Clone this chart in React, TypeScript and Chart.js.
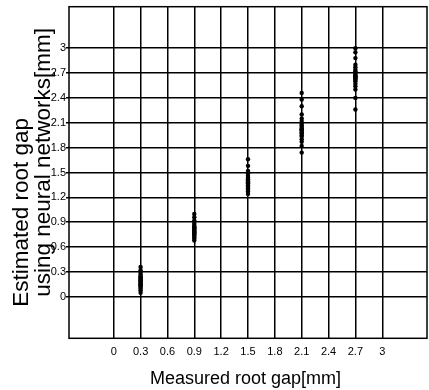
import React, { useEffect, useRef } from "react";
import { Chart, registerables } from "chart.js";

Chart.register(...registerables);

// Measured root gap categories (mm)
const measured = [0.3, 0.9, 1.5, 2.1, 2.7];

// Estimated root gap samples per measured value (mm)
const est03 = [0.05, 0.08, 0.1, 0.12, 0.13, 0.14, 0.15, 0.16, 0.17, 0.18, 0.19, 0.2, 0.21, 0.22, 0.23, 0.24, 0.25, 0.27, 0.29, 0.32, 0.36];
const est09 = [0.68, 0.7, 0.72, 0.74, 0.75, 0.76, 0.77, 0.78, 0.79, 0.8, 0.81, 0.82, 0.83, 0.84, 0.85, 0.87, 0.89, 0.92, 0.96, 1.0];
const est15 = [1.24, 1.27, 1.29, 1.31, 1.33, 1.34, 1.35, 1.36, 1.37, 1.38, 1.39, 1.4, 1.41, 1.42, 1.44, 1.46, 1.49, 1.52, 1.58, 1.66];
const est21 = [1.74, 1.82, 1.87, 1.9, 1.93, 1.95, 1.97, 1.98, 2.0, 2.01, 2.02, 2.03, 2.05, 2.07, 2.09, 2.12, 2.15, 2.2, 2.3, 2.38, 2.46];
const est27 = [2.26, 2.4, 2.5, 2.54, 2.57, 2.6, 2.62, 2.63, 2.64, 2.65, 2.66, 2.67, 2.68, 2.7, 2.72, 2.74, 2.77, 2.8, 2.88, 2.95, 3.0];
const estimates = [est03, est09, est15, est21, est27];

// Tick values and labels (both axes)
const tickValues = [0, 0.3, 0.6, 0.9, 1.2, 1.5, 1.8, 2.1, 2.4, 2.7, 3.0];
const tickLabels = ["0", "0.3", "0.6", "0.9", "1.2", "1.5", "1.8", "2.1", "2.4", "2.7", "3"];

const xTitle = "Measured root gap[mm]";
const yTitleLines = ["Estimated root gap", "using neural networks[mm]"];

const FONT = "'Liberation Sans', Arial, sans-serif";

export default function App() {
  const ref = useRef<HTMLCanvasElement | null>(null);

  useEffect(() => {
    if (!ref.current) return;
    const points: { x: number; y: number }[] = [];
    measured.forEach((m, i) => {
      estimates[i].forEach((v) => points.push({ x: m, y: v }));
    });

    const labelFor = (v: number) => {
      const idx = tickValues.findIndex((t) => Math.abs(t - v) < 1e-6);
      return idx >= 0 ? tickLabels[idx] : "";
    };

    const framePlugin = {
      id: "frameAndTitles",
      afterDraw(chart: any) {
        const { ctx, chartArea } = chart;
        ctx.save();
        ctx.strokeStyle = "#000";
        ctx.lineWidth = 1.5;
        ctx.strokeRect(chartArea.left, chartArea.top, chartArea.right - chartArea.left, chartArea.bottom - chartArea.top);
        // x title
        ctx.fillStyle = "#000";
        ctx.font = `18px ${FONT}`;
        ctx.textAlign = "center";
        ctx.textBaseline = "alphabetic";
        ctx.fillText(xTitle, chartArea.left + 176.5, chartArea.bottom + 46);
        // y title (two lines, rotated)
        ctx.font = `22.5px ${FONT}`;
        ctx.textAlign = "left";
        const starts = [
          { x: chartArea.left - 41.5, y: chartArea.bottom - 31.5 },
          { x: chartArea.left - 19, y: chartArea.bottom - 41.5 },
        ];
        yTitleLines.forEach((line, i) => {
          ctx.save();
          ctx.translate(starts[i].x, starts[i].y);
          ctx.rotate(-Math.PI / 2);
          ctx.fillText(line, 0, 0);
          ctx.restore();
        });
        ctx.restore();
      },
    };

    const chart = new Chart(ref.current, {
      type: "scatter",
      data: {
        datasets: [
          {
            data: points,
            backgroundColor: "#000",
            borderColor: "#000",
            pointRadius: 2.2,
            pointBorderWidth: 0,
          },
        ],
      },
      options: {
        animation: false,
        responsive: false,
        layout: { padding: { top: 6.7, left: 0, right: 0, bottom: 0 } },
        plugins: {
          legend: { display: false },
          tooltip: { enabled: false },
        },
        scales: {
          x: {
            type: "linear",
            min: -0.5,
            max: 3.5,
            afterBuildTicks: (s: any) => {
              s.ticks = tickValues.map((v) => ({ value: v }));
            },
            afterFit: (s: any) => {
              s.height = 51.7;
            },
            grid: { color: "#000", lineWidth: 1.5, drawTicks: false },
            border: { display: false },
            ticks: {
              padding: 7,
              color: "#000",
              font: { family: FONT, size: 11 },
              maxRotation: 0,
              autoSkip: false,
              callback: (v: any) => labelFor(Number(v)),
            },
          },
          y: {
            type: "linear",
            min: -0.5,
            max: 3.5,
            afterBuildTicks: (s: any) => {
              s.ticks = tickValues.map((v) => ({ value: v }));
            },
            afterFit: (s: any) => {
              s.width = 69;
            },
            grid: { color: "#000", lineWidth: 1.5, drawTicks: true, tickLength: 3 },
            border: { display: false },
            ticks: {
              padding: 0,
              color: "#000",
              font: { family: FONT, size: 11 },
              autoSkip: false,
              callback: (v: any) => labelFor(Number(v)),
            },
          },
        },
      },
      plugins: [framePlugin],
    });
    return () => chart.destroy();
  }, []);

  return (
    <div style={{ position: "fixed", left: 0, top: 0, width: 429, height: 390, overflow: "hidden", background: "#fff" }}>
      <canvas ref={ref} width={431} height={390} style={{ display: "block", width: 431, height: 390 }} />
    </div>
  );
}
